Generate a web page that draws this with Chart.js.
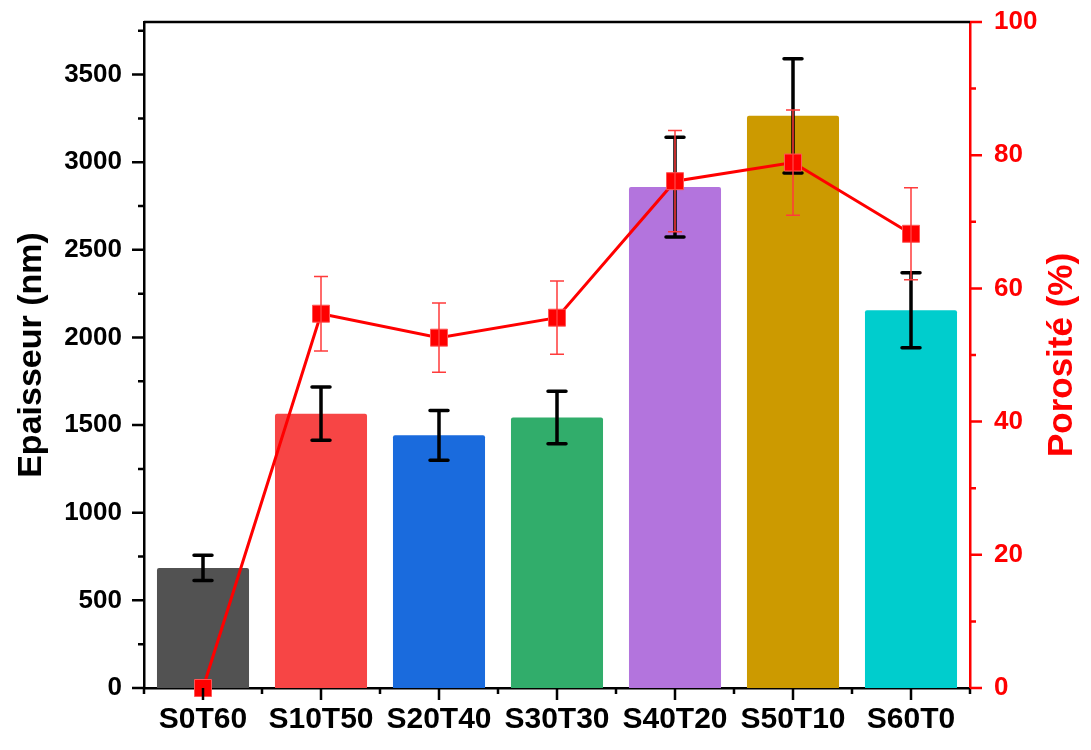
<!DOCTYPE html>
<html>
<head>
<meta charset="utf-8">
<script src="https://cdn.jsdelivr.net/npm/chart.js@4"></script>
<style>
  html, body { margin: 0; padding: 0; background: #fff; }
  #wrap { width: 1091px; height: 750px; }
</style>
</head>
<body>
<div id="wrap"><canvas id="chart"></canvas></div>
<script>
const categories = ['S0T60', 'S10T50', 'S20T40', 'S30T30', 'S40T20', 'S50T10', 'S60T0'];
const thickness = [685, 1565, 1442, 1543, 2858, 3265, 2155];
const thicknessErr = [72, 152, 142, 150, 285, 326, 214];
const porosity = [0, 56.2, 52.6, 55.6, 76.1, 78.9, 68.2];
const porosityErr = [0, 5.6, 5.2, 5.5, 7.6, 7.9, 6.9];
const barColors = ['#525252', '#F74545', '#1A6BDD', '#31AD6B', '#B374DD', '#CC9A00', '#00CDCD'];
const leftTicks = [0, 500, 1000, 1500, 2000, 2500, 3000, 3500];
const rightTicks = [0, 20, 40, 60, 80, 100];

const FONT = '"Liberation Sans", Arial, sans-serif';

// error bars, ticks, frame and axis titles
const decor = {
    id: 'decor',
    afterDatasetDraw(chart, args) {
        const ctx = chart.ctx;
        const meta = args.meta;
        ctx.save();
        if (args.index === 0) {
            const y = chart.scales.y;
            ctx.strokeStyle = '#000';
            ctx.lineWidth = 3.5;
            ctx.lineCap = 'round';
            meta.data.forEach((bar, i) => {
                const t = y.getPixelForValue(thickness[i] + thicknessErr[i]);
                const b = y.getPixelForValue(thickness[i] - thicknessErr[i]);
                ctx.beginPath();
                ctx.moveTo(bar.x, t); ctx.lineTo(bar.x, b);
                ctx.moveTo(bar.x - 9, t); ctx.lineTo(bar.x + 9, t);
                ctx.moveTo(bar.x - 9, b); ctx.lineTo(bar.x + 9, b);
                ctx.stroke();
            });
        } else if (args.index === 1) {
            const y1 = chart.scales.y1;
            ctx.strokeStyle = '#FF3b3b';
            ctx.lineWidth = 1.5;
            meta.data.forEach((pt, i) => {
                if (!porosityErr[i]) return;
                const t = y1.getPixelForValue(porosity[i] + porosityErr[i]);
                const b = y1.getPixelForValue(porosity[i] - porosityErr[i]);
                ctx.beginPath();
                ctx.moveTo(pt.x, t); ctx.lineTo(pt.x, b);
                ctx.moveTo(pt.x - 7, t); ctx.lineTo(pt.x + 7, t);
                ctx.moveTo(pt.x - 7, b); ctx.lineTo(pt.x + 7, b);
                ctx.stroke();
            });
        }
        ctx.restore();
    },
    afterDraw(chart) {
        const ctx = chart.ctx;
        const a = chart.chartArea;
        const {x, y, y1} = chart.scales;
        ctx.save();
        ctx.lineWidth = 2.5;

        // top frame line
        ctx.strokeStyle = '#000';
        ctx.beginPath();
        ctx.moveTo(a.left, a.top); ctx.lineTo(a.right, a.top);
        ctx.stroke();

        // left ticks
        ctx.beginPath();
        for (let v = 0; v <= y.max; v += 250) {
            const p = y.getPixelForValue(v);
            const len = v % 500 === 0 ? 12 : 6;
            ctx.moveTo(a.left, p); ctx.lineTo(a.left - len, p);
        }
        ctx.stroke();

        // bottom ticks
        ctx.beginPath();
        categories.forEach((c, i) => {
            const p = x.getPixelForValue(i);
            ctx.moveTo(p, a.bottom); ctx.lineTo(p, a.bottom + 12);
        });
        for (let i = 0; i <= categories.length; i++) {
            const p = x.getPixelForValue(i - 0.5);
            ctx.moveTo(p, a.bottom); ctx.lineTo(p, a.bottom + 6);
        }
        ctx.stroke();

        // right ticks
        ctx.strokeStyle = '#FF0000';
        ctx.beginPath();
        for (let v = 0; v <= 100; v += 10) {
            const p = y1.getPixelForValue(v);
            const len = v % 20 === 0 ? 12 : 6;
            ctx.moveTo(a.right, p); ctx.lineTo(a.right + len, p);
        }
        ctx.stroke();

        // axis titles
        const mid = (a.top + a.bottom) / 2;
        ctx.textAlign = 'center';
        ctx.textBaseline = 'middle';
        ctx.font = 'bold 34px ' + FONT;
        ctx.fillStyle = '#000';
        ctx.translate(32, mid);
        ctx.rotate(-Math.PI / 2);
        ctx.fillText('Epaisseur (nm)', 0, 0);
        ctx.setTransform(1, 0, 0, 1, 0, 0);
        ctx.font = 'bold 35px ' + FONT;
        ctx.fillStyle = '#FF0000';
        ctx.translate(1062, mid);
        ctx.rotate(-Math.PI / 2);
        ctx.fillText('Porosité (%)', 0, 0);
        ctx.restore();
    }
};

new Chart(document.getElementById('chart'), {
    type: 'bar',
    data: {
        labels: categories,
        datasets: [{
            label: 'Epaisseur',
            data: thickness,
            backgroundColor: barColors,
            borderWidth: 0,
            borderRadius: 2,
            barPercentage: 0.78,
            categoryPercentage: 1,
            yAxisID: 'y',
            order: 1,
        }, {
            type: 'line',
            label: 'Porosité',
            data: porosity,
            borderColor: '#FF0000',
            borderWidth: 3,
            pointStyle: 'rect',
            pointRadius: 12,
            pointBackgroundColor: '#FF0000',
            pointBorderColor: '#FF5555',
            pointBorderWidth: 1,
            clip: false,
            yAxisID: 'y1',
            order: 0,
        }]
    },
    options: {
        responsive: true,
        maintainAspectRatio: false,
        animation: false,
        layout: { padding: { top: 22, left: 0, right: 0, bottom: 0 } },
        scales: {
            x: {
                offset: true,
                grid: { display: false, drawTicks: false },
                border: { display: true, color: '#000', width: 2.5 },
                ticks: {
                    color: '#000',
                    padding: 14,
                    maxRotation: 0,
                    font: { family: FONT, weight: 'bold', size: 30 },
                },
                afterFit: s => { s.height = 62; s.paddingLeft = 0; s.paddingRight = 0; },
            },
            y: {
                position: 'left',
                min: 0,
                max: 3800,
                grid: { display: false, drawTicks: false },
                border: { display: true, color: '#000', width: 2.5 },
                ticks: {
                    color: '#000',
                    padding: 22,
                    font: { family: FONT, weight: 'bold', size: 26 },
                    callback: v => String(v),
                },
                afterBuildTicks: s => { s.ticks = leftTicks.map(v => ({ value: v })); },
                afterFit: s => { s.width = 144; s.paddingTop = 0; s.paddingBottom = 0; },
            },
            y1: {
                position: 'right',
                min: 0,
                max: 100,
                grid: { display: false, drawTicks: false },
                border: { display: true, color: '#FF0000', width: 2.5 },
                ticks: {
                    color: '#FF0000',
                    padding: 24,
                    font: { family: FONT, weight: 'bold', size: 26 },
                    callback: v => String(v),
                },
                afterBuildTicks: s => { s.ticks = rightTicks.map(v => ({ value: v })); },
                afterFit: s => { s.width = 121; s.paddingTop = 0; s.paddingBottom = 0; },
            },
        },
        plugins: {
            legend: { display: false },
            tooltip: { enabled: false },
        },
    },
    plugins: [decor],
});
</script>
</body>
</html>
